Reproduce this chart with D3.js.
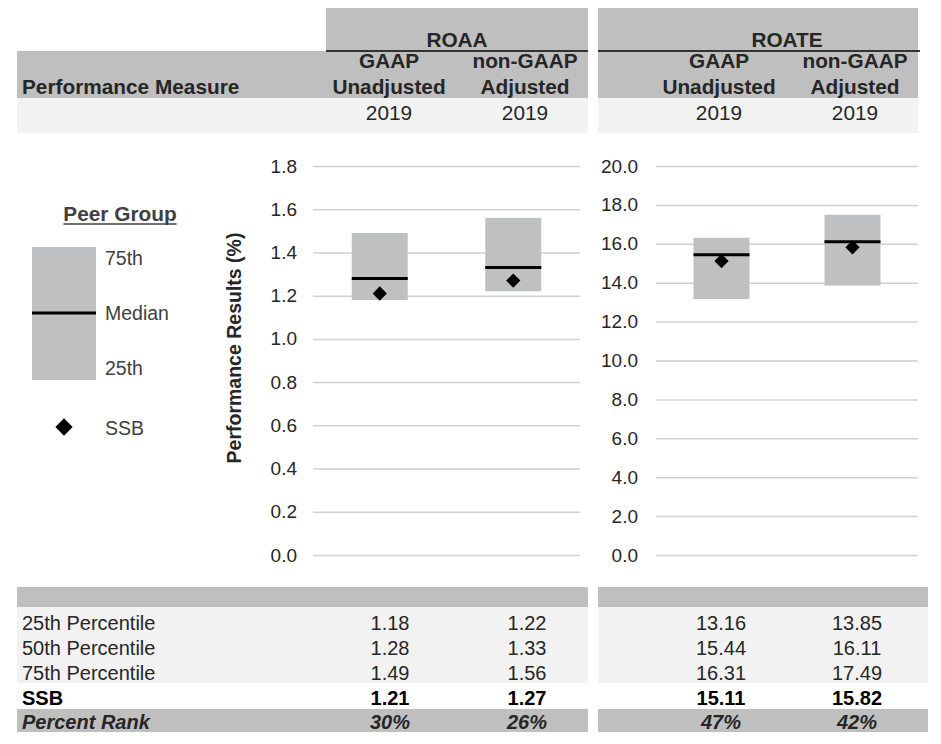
<!DOCTYPE html>
<html>
<head>
<meta charset="utf-8">
<script src="https://cdn.jsdelivr.net/npm/d3@7"></script>
<style>
  html, body { margin: 0; padding: 0; background: #fff; }
  svg { display: block; }
  text { font-family: "Liberation Sans", Arial, sans-serif; }
</style>
</head>
<body>
<svg id="chart" width="941" height="744"></svg>
<script>
// ---------------- DATA ----------------
const metrics = ["ROAA", "ROATE"];
const columnTop = ["GAAP", "non-GAAP"];
const columnBottom = ["Unadjusted", "Adjusted"];
const years = ["2019", "2019"];
const categories = ["GAAP Unadjusted", "non-GAAP Adjusted"];

const roaaP25 = [1.18, 1.22];
const roaaP50 = [1.28, 1.33];
const roaaP75 = [1.49, 1.56];
const roaaSSB = [1.21, 1.27];
const roaaRank = ["30%", "26%"];

const roateP25 = [13.16, 13.85];
const roateP50 = [15.44, 16.11];
const roateP75 = [16.31, 17.49];
const roateSSB = [15.11, 15.82];
const roateRank = ["47%", "42%"];

const roaaTicks = [0, 0.2, 0.4, 0.6, 0.8, 1.0, 1.2, 1.4, 1.6, 1.8];
const roateTicks = [0, 2, 4, 6, 8, 10, 12, 14, 16, 18, 20];

const rowLabels = ["25th Percentile", "50th Percentile", "75th Percentile", "SSB", "Percent Rank"];
const legendLabels = ["75th", "Median", "25th", "SSB"];
const legendTitle = "Peer Group";
const yTitle = "Performance Results (%)";
const headerLabel = "Performance Measure";

// ---------------- STYLE / LAYOUT ----------------
const GRAY = "#bfbfbf";
const LIGHT = "#f2f2f2";
const BOX = "#bfc0c2";
const TXT = "#262626";
const FS = 20;
const HFS = 20.8;

const svg = d3.select("#chart");

const sections = [
  { name: metrics[0], x0: 17, x1: 588, hx0: 326, lineX1: 588, botX1: 588,
    cols: [389, 525], valCols: [390, 527],
    plot: [313, 580], ticks: roaaTicks, max: 1.8, fmt: d3.format(".1f"), labelPad: 16,
    p25: roaaP25, p50: roaaP50, p75: roaaP75, ssb: roaaSSB, rank: roaaRank, dec: d3.format(".2f") },
  { name: metrics[1], x0: 598, x1: 918, hx0: 598, lineX1: 920, botX1: 928,
    cols: [719, 855], valCols: [721, 857],
    plot: [656, 918], ticks: roateTicks, max: 20, fmt: d3.format(".1f"), labelPad: 18,
    p25: roateP25, p50: roateP50, p75: roateP75, ssb: roateSSB, rank: roateRank, dec: d3.format(".2f") }
];

// ---------------- HEADER ----------------
sections.forEach((s, i) => {
  svg.append("rect").attr("x", s.hx0).attr("y", 8).attr("width", s.x1 - s.hx0).attr("height", 43).attr("fill", GRAY);
  svg.append("rect").attr("x", s.x0).attr("y", 51).attr("width", s.x1 - s.x0).attr("height", 47).attr("fill", GRAY);
  svg.append("rect").attr("x", s.x0).attr("y", 98).attr("width", s.x1 - s.x0).attr("height", 35).attr("fill", LIGHT);
  svg.append("line").attr("x1", s.hx0).attr("x2", s.lineX1).attr("y1", 51).attr("y2", 51)
    .attr("stroke", "#333").attr("stroke-width", 2);

  svg.append("text").attr("x", (s.cols[0] + s.cols[1]) / 2).attr("y", 47)
    .attr("text-anchor", "middle").attr("font-weight", "bold").attr("font-size", HFS).attr("fill", TXT)
    .text(s.name);

  s.cols.forEach((cx, j) => {
    svg.append("text").attr("x", cx).attr("y", 68).attr("text-anchor", "middle")
      .attr("font-weight", "bold").attr("font-size", HFS).attr("fill", TXT).text(columnTop[j]);
    svg.append("text").attr("x", cx).attr("y", 94).attr("text-anchor", "middle")
      .attr("font-weight", "bold").attr("font-size", HFS).attr("fill", TXT).text(columnBottom[j]);
    svg.append("text").attr("x", cx).attr("y", 120).attr("text-anchor", "middle")
      .attr("font-size", HFS).attr("fill", TXT).text(years[j]);
  });
});
svg.append("text").attr("x", 22).attr("y", 94).attr("font-weight", "bold").attr("font-size", HFS)
  .attr("fill", TXT).text(headerLabel);

// ---------------- PLOTS ----------------
const yTop = 166, yBottom = 555;
sections.forEach((s) => {
  const y = d3.scaleLinear().domain([0, s.max]).range([yBottom, yTop]);
  const x = d3.scalePoint().domain(categories).range(s.plot).padding(0.5);
  const g = svg.append("g");

  const axis = d3.axisLeft(y).tickValues(s.ticks).tickFormat(s.fmt)
    .tickSize(-(s.plot[1] - s.plot[0])).tickPadding(s.labelPad);
  const ag = g.append("g").attr("transform", `translate(${s.plot[0]},0)`).call(axis);
  ag.select(".domain").remove();
  ag.selectAll(".tick line").attr("stroke", "#d0d0d0").attr("stroke-width", 1.5);
  ag.selectAll(".tick text").attr("font-size", 19).attr("fill", TXT)
    .attr("font-family", "'Liberation Sans', Arial, sans-serif");

  const bw = 56;
  const idx = d3.range(categories.length);
  g.selectAll("rect.box").data(idx).join("rect").attr("class", "box")
    .attr("x", i => x(categories[i]) - bw / 2)
    .attr("width", bw)
    .attr("y", i => y(s.p75[i]))
    .attr("height", i => y(s.p25[i]) - y(s.p75[i]))
    .attr("fill", BOX);
  g.selectAll("line.med").data(idx).join("line").attr("class", "med")
    .attr("x1", i => x(categories[i]) - bw / 2)
    .attr("x2", i => x(categories[i]) + bw / 2)
    .attr("y1", i => y(s.p50[i])).attr("y2", i => y(s.p50[i]))
    .attr("stroke", "#000").attr("stroke-width", 3);
  const sym = d3.symbol().type(d3.symbolDiamond2).size(130);
  g.selectAll("path.ssb").data(idx).join("path").attr("class", "ssb")
    .attr("transform", i => `translate(${x(categories[i])},${y(s.ssb[i])})`)
    .attr("d", sym).attr("fill", "#000");
});

// y title
svg.append("text").attr("transform", "translate(241,348) rotate(-90)")
  .attr("text-anchor", "middle").attr("font-weight", "bold").attr("font-size", 19.5).attr("fill", TXT)
  .text(yTitle);

// ---------------- LEGEND ----------------
const lg = svg.append("g");
const lt = lg.append("text").attr("x", 120).attr("y", 221).attr("text-anchor", "middle")
  .attr("font-weight", "bold").attr("font-size", HFS).attr("fill", "#404040").text(legendTitle);
const ltw = lt.node().getComputedTextLength();
lg.append("line").attr("x1", 120 - ltw / 2).attr("x2", 120 + ltw / 2).attr("y1", 224).attr("y2", 224)
  .attr("stroke", "#404040").attr("stroke-width", 1.6);
lg.append("rect").attr("x", 32).attr("y", 247).attr("width", 64).attr("height", 133).attr("fill", BOX);
lg.append("line").attr("x1", 32).attr("x2", 96).attr("y1", 313).attr("y2", 313).attr("stroke", "#000").attr("stroke-width", 3);
lg.append("path").attr("transform", "translate(64,427)")
  .attr("d", d3.symbol().type(d3.symbolDiamond2).size(190)).attr("fill", "#000");
[265, 320, 375, 435].forEach((yy, i) => {
  lg.append("text").attr("x", 105).attr("y", yy).attr("font-size", 19.5).attr("fill", "#404040").text(legendLabels[i]);
});

// ---------------- BOTTOM TABLE ----------------
const rowBase = [630, 655, 680, 705, 729];
sections.forEach((s) => {
  const w = s.botX1 - s.x0;
  svg.append("rect").attr("x", s.x0).attr("y", 587).attr("width", w).attr("height", 20).attr("fill", GRAY);
  svg.append("rect").attr("x", s.x0).attr("y", 607).attr("width", w).attr("height", 76).attr("fill", LIGHT);
  svg.append("rect").attr("x", s.x0).attr("y", 709).attr("width", w).attr("height", 23).attr("fill", GRAY);
  const rows = [s.p25.map(s.dec), s.p50.map(s.dec), s.p75.map(s.dec), s.ssb.map(s.dec), s.rank];
  rows.forEach((vals, r) => {
    vals.forEach((v, j) => {
      svg.append("text").attr("x", s.valCols[j]).attr("y", rowBase[r]).attr("text-anchor", "middle")
        .attr("font-size", FS)
        .attr("font-weight", r >= 3 ? "bold" : "normal")
        .attr("font-style", r === 4 ? "italic" : "normal")
        .attr("fill", r === 3 ? "#000" : TXT)
        .text(v);
    });
  });
});
rowLabels.forEach((lab, r) => {
  svg.append("text").attr("x", 22).attr("y", rowBase[r]).attr("font-size", FS)
    .attr("font-weight", r >= 3 ? "bold" : "normal")
    .attr("font-style", r === 4 ? "italic" : "normal")
    .attr("fill", r === 3 ? "#000" : TXT)
    .text(lab);
});
</script>
</body>
</html>
